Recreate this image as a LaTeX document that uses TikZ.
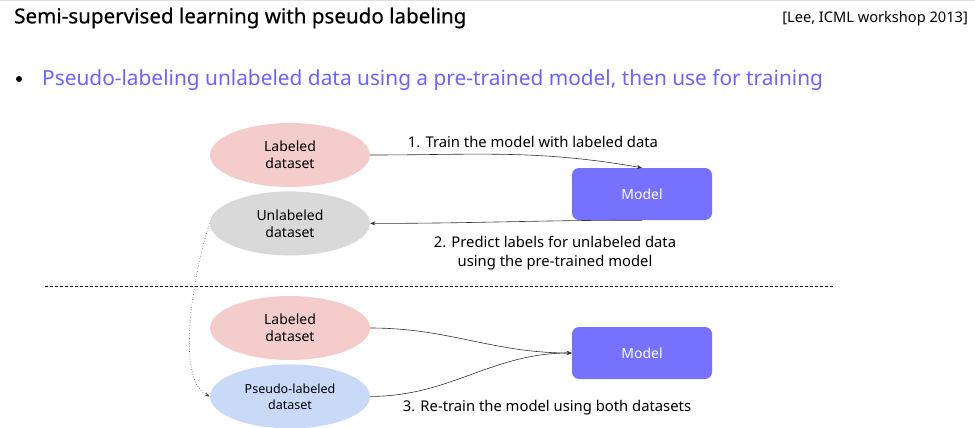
\documentclass[tikz,border=0pt]{standalone}
\usepackage{fontspec}
\setmainfont{Noto Sans}
\newfontfamily\titlefont[FakeBold=0.5]{Noto Sans}
\usetikzlibrary{positioning,shapes.geometric,arrows.meta}
\definecolor{labpink}{HTML}{F4CCCC}
\definecolor{unlabgray}{HTML}{D9D9D9}
\definecolor{pseudoblue}{HTML}{C9DAF8}
\definecolor{modelblue}{HTML}{7671FF}
\definecolor{leadpurple}{HTML}{6C63FF}
\begin{document}
\begin{tikzpicture}[x=1pt, y=1pt, >={Stealth[length=5pt,width=4pt]},
    data/.style = {ellipse, minimum width=160pt, minimum height=64pt, inner sep=0pt,
                   align=center, font=\fontsize{14}{17}\selectfont},
    model/.style = {rounded corners=7pt, fill=modelblue, minimum width=140pt, minimum height=52pt,
                    text=white, font=\fontsize{14}{17}\selectfont},
    note/.style = {align=center, font=\fontsize{14.8}{19}\selectfont},
    link/.style = {->, line width=0.6pt, draw=black!80}]
\useasboundingbox (0,0) rectangle (975,-428);
\draw[black!12, line width=1pt] (0,-1) -- (975,-1);

% header
\node[anchor=west, inner sep=0pt, font=\titlefont\fontsize{20.6}{24}\selectfont] (title) at (14,-18) {Semi-supervised learning with pseudo labeling};
\node[anchor=east, inner sep=0pt, font=\fontsize{14.6}{17}\selectfont] (cite) at (968,-19) {[Lee, ICML workshop 2013]};
\node[circle, fill=black, inner sep=0pt, minimum size=6pt] (dot) at (19,-79) {};
\node[anchor=west, inner sep=0pt, text=leadpurple, font=\fontsize{20.85}{24}\selectfont] (lead) at (42,-80) {Pseudo-labeling unlabeled data using a pre-trained model, then use for training};

% stage 1
\node[data, fill=labpink] (lab1) at (290,-155) {Labeled\\dataset};
\node[data, fill=unlabgray, below=4pt of lab1] (unlab) {Unlabeled\\dataset};
\node[model] (model1) at (642,-194) {Model};
\node[note] (note1) at (533,-142) {1. Train the model with labeled data};
\node[note] (note2) at (555,-253) {2. Predict labels for unlabeled data\\using the pre-trained model};
\draw[link] (lab1.east) to[out=0, in=170] (model1.north);
\draw[link] (model1.south) to[out=180, in=0] (unlab.east);

% split
\coordinate (cutL) at (45,-286);
\coordinate (cutR) at (833,-286);
\draw[dash pattern=on 3pt off 2pt, line width=0.6pt] (cutL) -- (cutR);

% stage 2
\node[data, fill=labpink] (lab2) at (290,-328) {Labeled\\dataset};
\node[data, fill=pseudoblue, below=4pt of lab2, font=\fontsize{12.5}{16}\selectfont] (pseudo) {Pseudo-labeled\\dataset};
\node[model] (model2) at (642,-353) {Model};
\node[note] (note3) at (547,-408) {3. Re-train the model using both datasets};
\draw[link] (lab2.east) to[out=0, in=180] (model2.west);
\draw[link] (pseudo.east) to[out=0, in=180] (model2.west);
\draw[link, dotted, draw=black!70] (unlab.west) to[out=250, in=155, looseness=0.6] (pseudo.west);
\end{tikzpicture}
\end{document}
